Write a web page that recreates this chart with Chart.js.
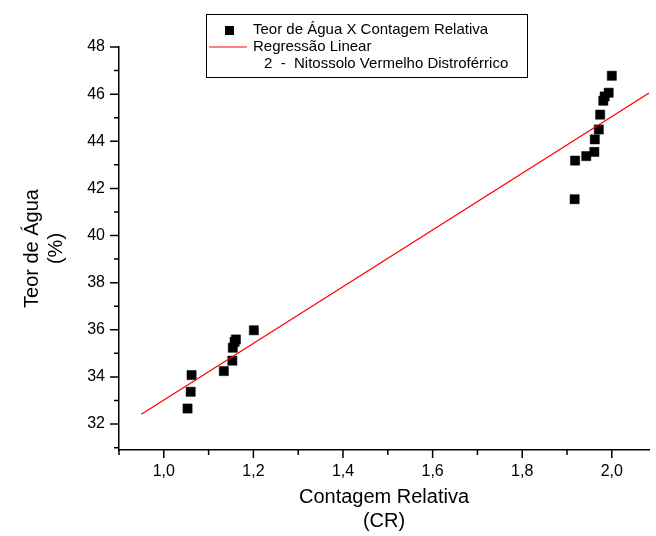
<!DOCTYPE html>
<html>
<head>
<meta charset="utf-8">
<script src="https://cdn.jsdelivr.net/npm/chart.js@4.4.1/dist/chart.umd.min.js"></script>
<style>
  html, body { margin: 0; padding: 0; background: #fff; }
  #wrap { width: 656px; height: 536px; position: relative; }
</style>
</head>
<body>
<div id="wrap"><canvas id="chart"></canvas></div>
<script>
// Teor de agua x contagem relativa
const crValues = [1.053, 1.060, 1.062, 1.134, 1.153, 1.154, 1.158, 1.161, 1.201,
  1.917, 1.918, 1.943, 1.961, 1.962, 1.971, 1.974, 1.981, 1.984, 1.993, 2.000];
const teorAgua = [32.66, 33.37, 34.08, 34.25, 34.69, 35.24, 35.49, 35.59, 35.98,
  41.54, 43.18, 43.37, 43.55, 44.08, 44.50, 45.13, 45.72, 45.90, 46.06, 46.78];

// regression line end points
const regressaoCR = [0.95, 2.083];
const regressaoTeor = [32.42, 46.05];

const xMajorTicks = [1.0, 1.2, 1.4, 1.6, 1.8, 2.0];
const xTickLabels = ["1,0", "1,2", "1,4", "1,6", "1,8", "2,0"];
const xMinorTicks = [0.9, 1.1, 1.3, 1.5, 1.7, 1.9];
const yMajorTicks = [32, 34, 36, 38, 40, 42, 44, 46, 48];
const yMinorTicks = [31, 33, 35, 37, 39, 41, 43, 45, 47];

const legendItems = [
  "Teor de Água X Contagem Relativa",
  "Regressão Linear",
  "2  -  Nitossolo Vermelho Distroférrico"
];

const FONT = "Arial, 'Liberation Sans', sans-serif";

function isMajor(list, v) {
  return list.some(t => Math.abs(t - v) < 1e-6);
}

// outward tick marks, long for major, short for minor
const tickMarks = {
  id: "tickMarks",
  afterDraw(chart) {
    const ctx = chart.ctx;
    const xs = chart.scales.x;
    const ys = chart.scales.y;
    const area = chart.chartArea;
    ctx.save();
    ctx.strokeStyle = "#000";
    ctx.lineWidth = 1.5;
    ctx.beginPath();
    xMajorTicks.concat(xMinorTicks).forEach(v => {
      const px = xs.getPixelForValue(v);
      const len = isMajor(xMajorTicks, v) ? 8 : 5;
      ctx.moveTo(px, area.bottom);
      ctx.lineTo(px, area.bottom + len);
    });
    yMajorTicks.concat(yMinorTicks).forEach(v => {
      const py = ys.getPixelForValue(v);
      const len = isMajor(yMajorTicks, v) ? 9 : 5;
      ctx.moveTo(area.left, py);
      ctx.lineTo(area.left - len, py);
    });
    ctx.stroke();
    ctx.restore();
  }
};

// boxed legend with a third text line
const boxLegend = {
  id: "boxLegend",
  afterDraw(chart) {
    const ctx = chart.ctx;
    ctx.save();
    ctx.strokeStyle = "#000";
    ctx.lineWidth = 1;
    ctx.strokeRect(206.5, 14.5, 321, 63);

    ctx.fillStyle = "#000";
    ctx.fillRect(225, 26, 9, 9);

    ctx.strokeStyle = "#ff0000";
    ctx.lineWidth = 1.2;
    ctx.beginPath();
    ctx.moveTo(209, 47);
    ctx.lineTo(247, 47);
    ctx.stroke();

    ctx.fillStyle = "#000";
    ctx.font = "15px " + FONT;
    ctx.textBaseline = "middle";
    ctx.fillText(legendItems[0], 253, 30);
    ctx.fillText(legendItems[1], 253, 47);
    ctx.fillText(legendItems[2], 264, 64);
    ctx.restore();
  }
};

const ctx = document.getElementById("chart").getContext("2d");
new Chart(ctx, {
  type: "scatter",
  data: {
    datasets: [
      {
        label: "Regressão Linear",
        data: regressaoCR.map((x, i) => ({ x, y: regressaoTeor[i] })),
        showLine: true,
        borderColor: "#ff0000",
        borderWidth: 1.2,
        pointRadius: 0,
        fill: false
      },
      {
        label: "Teor de Água X Contagem Relativa",
        data: crValues.map((x, i) => ({ x, y: teorAgua[i] })),
        pointStyle: "rect",
        pointRadius: 6.5,
        borderWidth: 0.5,
        backgroundColor: "#000",
        borderColor: "#000"
      }
    ]
  },
  options: {
    responsive: true,
    maintainAspectRatio: false,
    animation: false,
    layout: { padding: { top: 47, right: 0, bottom: 0, left: 0 } },
    plugins: {
      legend: { display: false },
      tooltip: { enabled: false }
    },
    scales: {
      x: {
        type: "linear",
        min: 0.9,
        max: 2.083,
        afterBuildTicks: scale => {
          scale.ticks = xMajorTicks.concat(xMinorTicks).sort((a, b) => a - b).map(v => ({ value: v }));
        },
        afterFit: scale => { scale.height = 86; },
        grid: { display: false, drawTicks: false },
        border: { display: true, color: "#000", width: 1.5 },
        ticks: {
          autoSkip: false,
          maxRotation: 0,
          padding: 12,
          color: "#000",
          font: { family: FONT, size: 16 },
          callback: v => {
            const i = xMajorTicks.findIndex(t => Math.abs(t - v) < 1e-6);
            return i >= 0 ? xTickLabels[i] : "";
          }
        },
        title: {
          display: true,
          text: ["Contagem Relativa", "(CR)"],
          color: "#000",
          font: { family: FONT, size: 20, lineHeight: "24px" },
          padding: { top: 0, bottom: 3 }
        }
      },
      y: {
        type: "linear",
        min: 30.9,
        max: 48,
        afterBuildTicks: scale => {
          scale.ticks = yMajorTicks.concat(yMinorTicks).sort((a, b) => a - b).map(v => ({ value: v }));
        },
        afterFit: scale => { scale.width = 119; },
        grid: { display: false, drawTicks: false },
        border: { display: true, color: "#000", width: 1.5 },
        ticks: {
          autoSkip: false,
          padding: 14,
          color: "#000",
          font: { family: FONT, size: 16 },
          callback: v => isMajor(yMajorTicks, v) ? String(v) : ""
        },
        title: {
          display: true,
          text: ["Teor de Água", "(%)"],
          color: "#000",
          font: { family: FONT, size: 20, lineHeight: "24px" },
          padding: { top: 20, bottom: 0 }
        }
      }
    }
  },
  plugins: [tickMarks, boxLegend]
});
</script>
</body>
</html>
